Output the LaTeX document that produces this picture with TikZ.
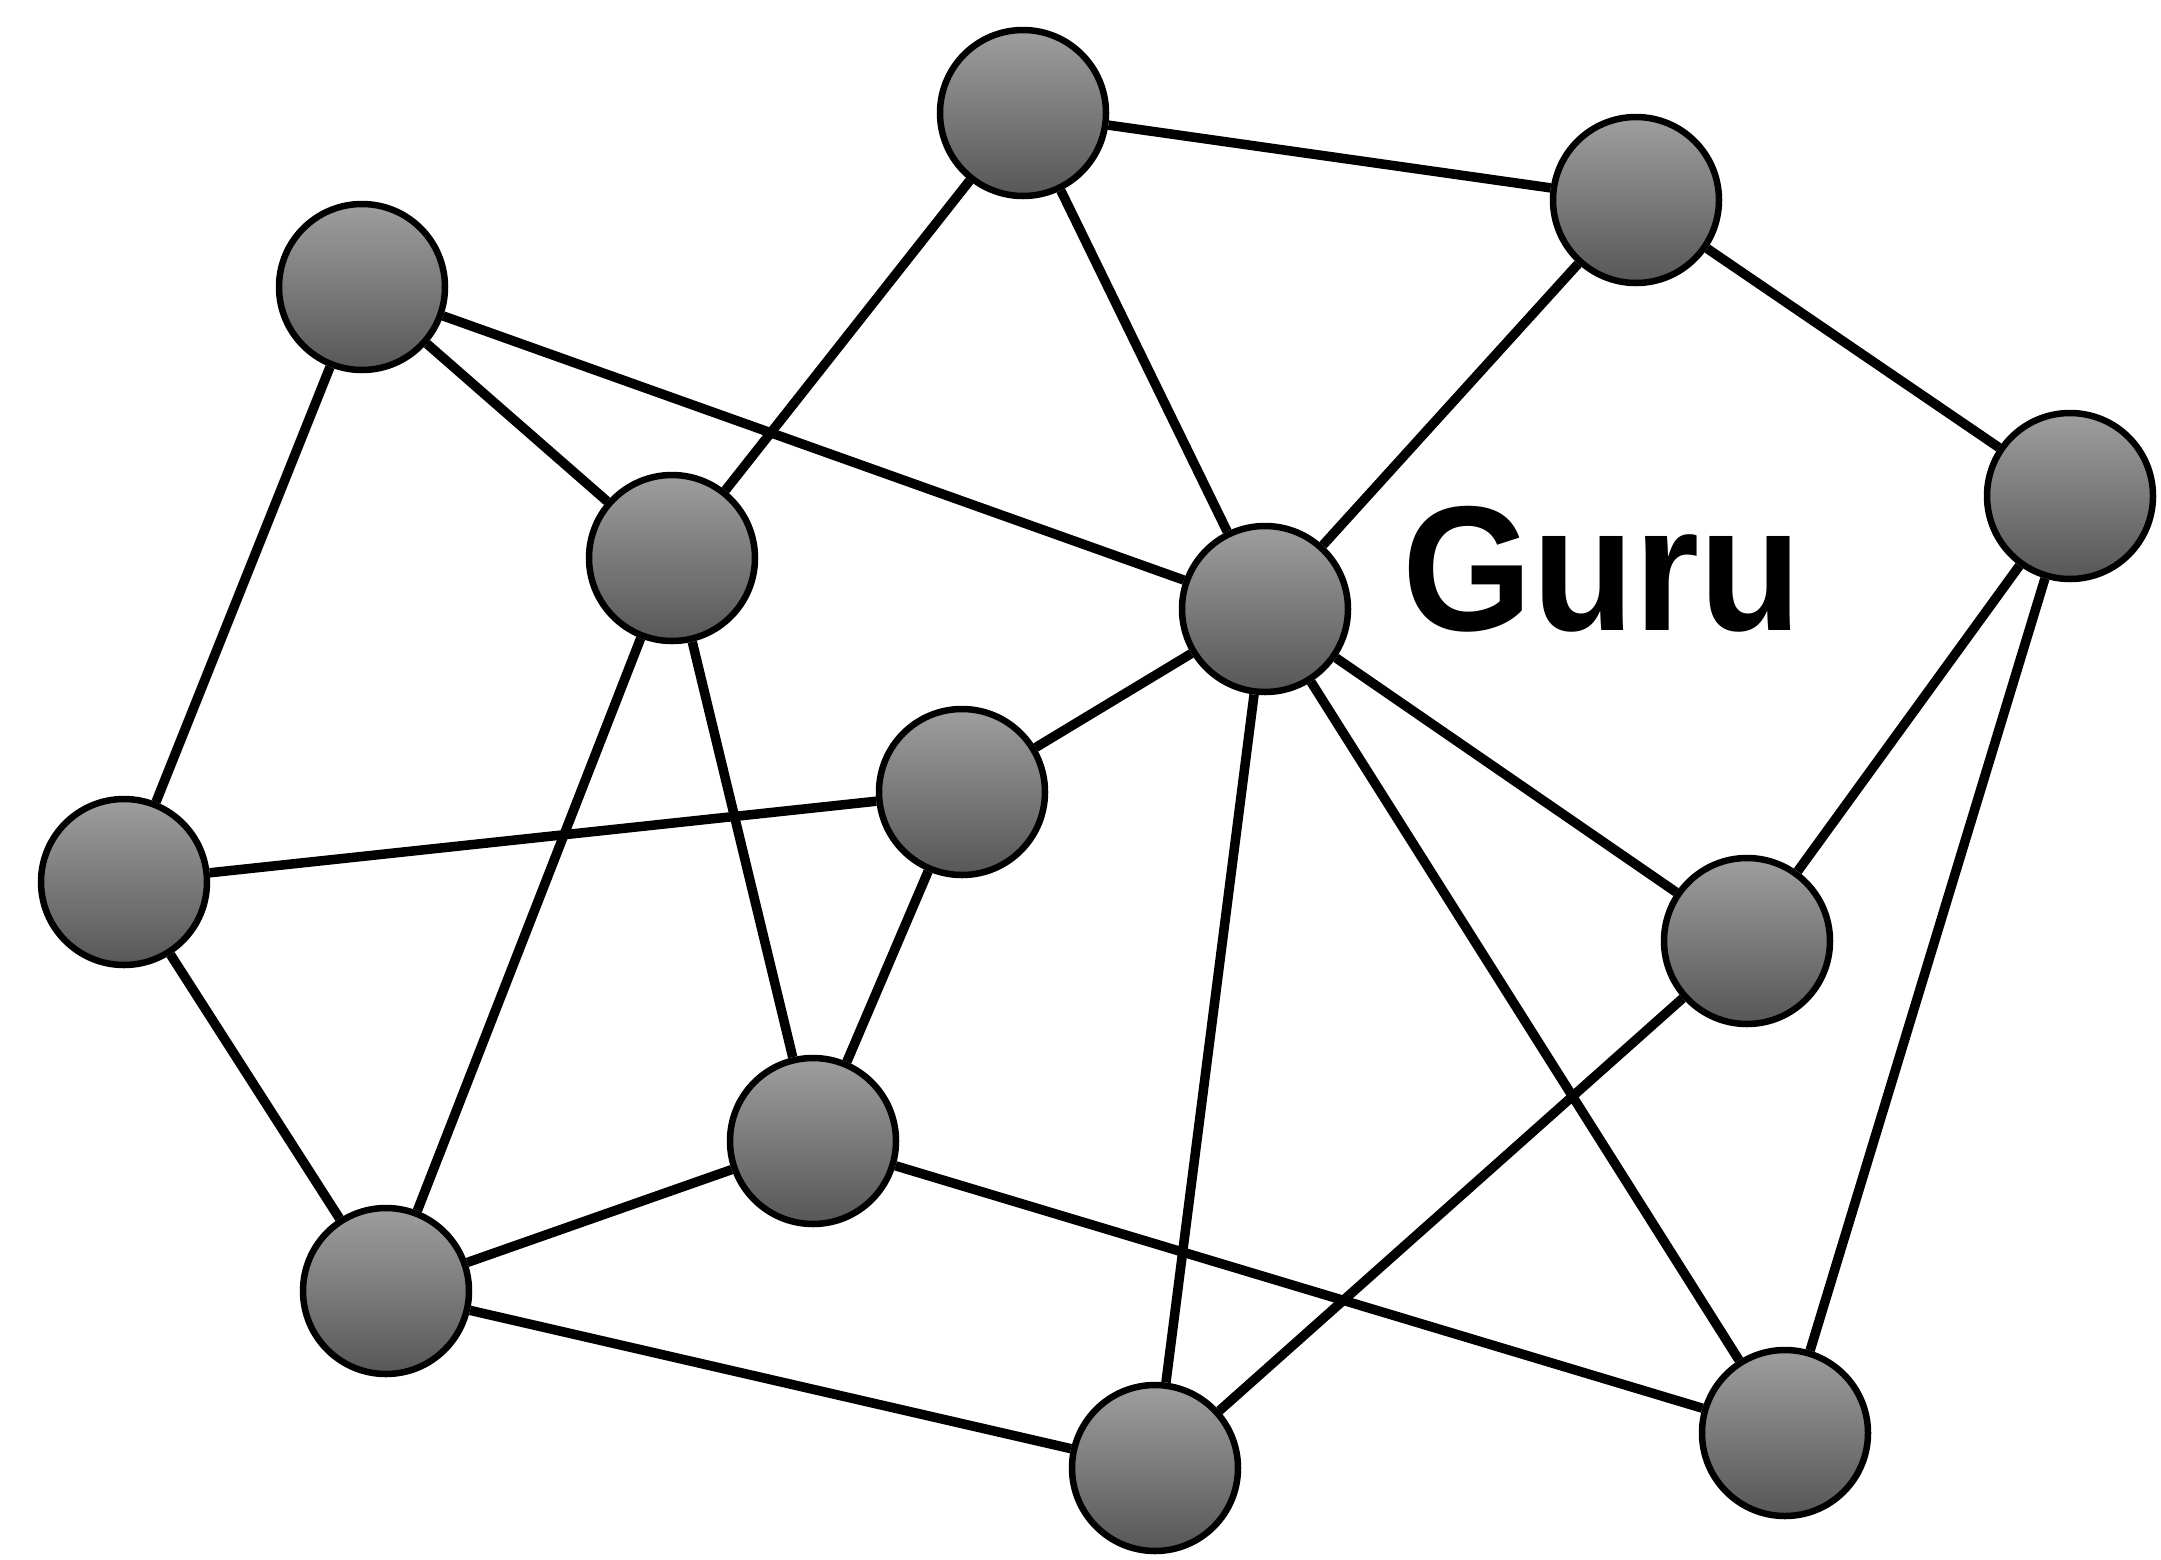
\documentclass[tikz,border=0pt]{standalone}
\usepackage{fontspec}
\setmainfont{Liberation Sans}
\begin{document}
\begin{tikzpicture}[x=1pt,y=-1pt,
  ball/.style={circle, draw=black, line width=6.5pt, minimum size=166pt, inner sep=0pt,
    top color=black!38, bottom color=black!66},
  link/.style={line width=9.5pt, black}]
\useasboundingbox (0,0) rectangle (2161,1559);
\fill[white] (0,0) rectangle (2161,1559);
\node[ball] (A) at (1023,113) {};
\node[ball] (B) at (1636,200) {};
\node[ball] (C) at (362,287) {};
\node[ball] (D) at (2070,496) {};
\node[ball] (E) at (672,558) {};
\node[ball] (G) at (1265,609) {};
\node[ball] (F) at (962,792) {};
\node[ball] (H) at (124,882) {};
\node[ball] (I) at (1747,941) {};
\node[ball] (J) at (813,1141) {};
\node[ball] (K) at (386,1291) {};
\node[ball] (L) at (1155,1468) {};
\node[ball] (M) at (1785,1433) {};
\node[anchor=base west, inner sep=0pt, font=\fontsize{178}{178}\selectfont\bfseries] (guru) at (1402,630) {\scalebox{0.94}[1]{Guru}};
\foreach \a/\b in {A/B, A/E, A/G, B/G, B/D, C/E, C/G, C/H, D/I, D/M, E/K, E/J, G/F, G/I, G/L, G/M, F/H, F/J, H/K, K/J, K/L, J/M, I/L}
  \draw[link] (\a) -- (\b);
\end{tikzpicture}
\end{document}
